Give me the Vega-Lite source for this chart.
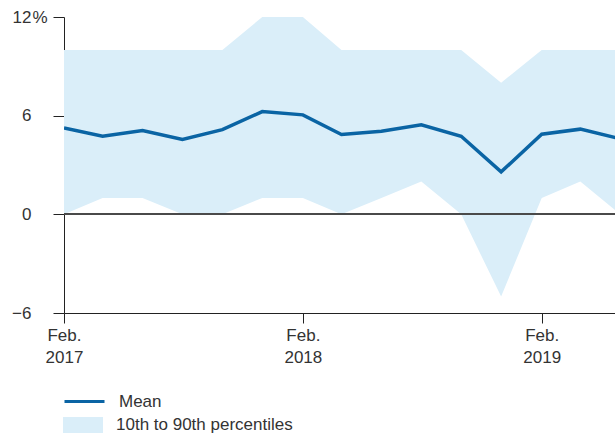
{
  "$schema": "https://vega.github.io/schema/vega-lite/v6.json",
  "width": 551,
  "height": 296,
  "autosize": "none",
  "padding": {"left": 64, "top": 17, "right": 0, "bottom": 122},
  "background": "white",
  "config": {"view": {"stroke": null}, "font": "Liberation Sans"},
  "data": {"values": [
    {"date": "2017-02-01", "mean": 5.25, "p10": 0, "p90": 10},
    {"date": "2017-04-01", "mean": 4.75, "p10": 1, "p90": 10},
    {"date": "2017-06-01", "mean": 5.1, "p10": 1, "p90": 10},
    {"date": "2017-08-01", "mean": 4.55, "p10": 0, "p90": 10},
    {"date": "2017-10-01", "mean": 5.15, "p10": 0, "p90": 10},
    {"date": "2017-12-01", "mean": 6.25, "p10": 1, "p90": 12},
    {"date": "2018-02-01", "mean": 6.05, "p10": 1, "p90": 12},
    {"date": "2018-04-01", "mean": 4.85, "p10": 0, "p90": 10},
    {"date": "2018-06-01", "mean": 5.05, "p10": 1, "p90": 10},
    {"date": "2018-08-01", "mean": 5.45, "p10": 2, "p90": 10},
    {"date": "2018-10-01", "mean": 4.75, "p10": 0, "p90": 10},
    {"date": "2018-12-01", "mean": 2.58, "p10": -5, "p90": 8},
    {"date": "2019-02-01", "mean": 4.87, "p10": 1, "p90": 10},
    {"date": "2019-04-01", "mean": 5.18, "p10": 2, "p90": 10},
    {"date": "2019-06-01", "mean": 4.6, "p10": 0, "p90": 10}
  ]},
  "resolve": {"axis": {"y": "independent"}},
  "layer": [
    {
      "mark": {"type": "area", "clip": true, "opacity": 1},
      "encoding": {
        "x": {
          "field": "date", "type": "temporal",
          "scale": {"type": "utc", "domain": [{"year": 2017, "month": 2, "date": 1, "utc": true}, {"year": 2019, "month": 5, "date": 24, "utc": true}]},
          "axis": {
            "values": [{"year": 2017, "month": 2, "date": 1, "utc": true}, {"year": 2018, "month": 2, "date": 1, "utc": true}, {"year": 2019, "month": 2, "date": 1, "utc": true}],
            "labelExpr": "['Feb.', utcFormat(datum.value, '%Y')]",
            "title": null, "grid": false,
            "domainColor": "#222", "tickColor": "#222", "tickSize": 10,
            "labelFontSize": 17, "labelColor": "#333", "labelPadding": 4, "labelLineHeight": 22,
            "labelFlush": false, "labelOverlap": false
          }
        },
        "y": {
          "field": "p90", "type": "quantitative",
          "scale": {"domain": [-6, 12], "nice": false, "zero": false},
          "axis": {
            "orient": "left",
            "values": [-6, 0, 6, 12],
            "title": null, "grid": false,
            "domainColor": "#222", "tickColor": "#222", "tickSize": 11,
            "labelFontSize": 17, "labelColor": "#333", "labelPadding": 22,
            "labelExpr": "datum.value < 0 ? '\u2212' + abs(datum.value) : '' + datum.value"
          }
        },
        "y2": {"field": "p10"},
        "fill": {
          "datum": "10th to 90th percentiles", "type": "nominal",
          "scale": {"range": ["#daeef9"]},
          "legend": {
            "orient": "none", "legendX": -1, "legendY": 388, "title": null, "padding": 0,
            "symbolType": "M-1,-0.4H1V0.4H-1Z", "symbolSize": 1600, "symbolStrokeWidth": 0,
            "symbolOpacity": 1, "labelFontSize": 17, "labelColor": "#333", "labelOffset": 13, "labelLimit": 400
          }
        }
      }
    },
    {
      "mark": {"type": "rule", "color": "#4a4a4a", "strokeWidth": 1.5},
      "encoding": {"y": {"datum": 0, "type": "quantitative",
        "axis": {
          "orient": "left", "values": [12], "labelExpr": "'%'",
          "title": null, "grid": false, "domain": false, "ticks": false, "tickSize": 0,
          "labelAlign": "left", "labelPadding": 32,
          "labelFontSize": 17, "labelColor": "#333"
        }}}
    },
    {
      "mark": {"type": "line", "clip": true, "strokeWidth": 3.5},
      "encoding": {
        "x": {"field": "date", "type": "temporal"},
        "y": {"field": "mean", "type": "quantitative", "axis": null},
        "stroke": {
          "datum": "Mean", "type": "nominal",
          "scale": {"range": ["#0a64a4"]},
          "legend": {
            "orient": "none", "legendX": -1, "legendY": 363, "title": null, "padding": 0,
            "symbolType": "stroke", "symbolSize": 1600, "symbolStrokeWidth": 3,
            "labelFontSize": 17, "labelColor": "#333", "labelOffset": 13, "labelLimit": 400
          }
        }
      }
    }
  ]
}
